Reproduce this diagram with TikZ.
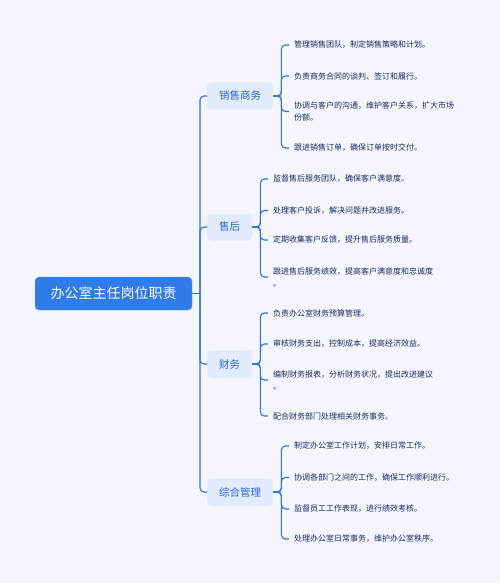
\documentclass[tikz,border=0pt]{standalone}
\usepackage{fontspec}
\newfontfamily\cjk{Noto Sans CJK SC}
\definecolor{bgcol}{HTML}{F5F6FD}
\definecolor{rootblue}{HTML}{2F7BEA}
\definecolor{topicfill}{HTML}{E1EBFC}
\definecolor{topictext}{HTML}{2A68DC}
\definecolor{linkblue}{HTML}{2B74E6}
\definecolor{leaftext}{HTML}{1F2A63}

\begin{document}
\begin{tikzpicture}[x=1pt,y=-1pt,
    root/.style={rectangle,rounded corners=4pt,fill=rootblue,draw=rootblue!70!white,text=white,
      minimum width=157pt,minimum height=33pt,font=\cjk\fontsize{14}{16}\selectfont},
    topic/.style={rectangle,rounded corners=4pt,fill=topicfill,text=topictext,anchor=west,
      inner xsep=12pt,minimum height=27pt,font=\cjk\fontsize{10.5}{12}\selectfont},
    leaf/.style={anchor=west,inner xsep=5pt,inner ysep=2pt,align=left,text=leaftext,
      font=\cjk\fontsize{8}{12}\selectfont},
    link/.style={draw=linkblue,line width=1.1pt,rounded corners=4pt}]
\fill[bgcol] (0,0) rectangle (500,583);
\node[root] (r) at (113.5,293.5) {办公室主任岗位职责};
\coordinate (j) at (200,293.5);
% topics
\node[topic] (s) at (207,96) {销售商务};
\node[topic] (h) at (207,227) {售后};
\node[topic] (f) at (207,364) {财务};
\node[topic] (g) at (207,492) {综合管理};
% leaves
\node[leaf] (s1) at (289,45) {管理销售团队，制定销售策略和计划。};
\node[leaf] (s2) at (289,76) {负责商务合同的谈判、签订和履行。};
\node[leaf] (s3) at (289,111.5) {协调与客户的沟通，维护客户关系，扩大市场\\份额。};
\node[leaf] (s4) at (289,148) {跟进销售订单，确保订单按时交付。};
\node[leaf] (h1) at (268,179) {监督售后服务团队，确保客户满意度。};
\node[leaf] (h2) at (268,210.5) {处理客户投诉，解决问题并改进服务。};
\node[leaf] (h3) at (268,240) {定期收集客户反馈，提升售后服务质量。};
\node[leaf] (h4) at (268,277) {跟进售后服务绩效，提高客户满意度和忠诚度\\。};
\node[leaf] (f1) at (268,313) {负责办公室财务预算管理。};
\node[leaf] (f2) at (268,344) {审核财务支出，控制成本，提高经济效益。};
\node[leaf] (f3) at (268,380) {编制财务报表，分析财务状况，提出改进建议\\。};
\node[leaf] (f4) at (268,416) {配合财务部门处理相关财务事务。};
\node[leaf] (g1) at (289,446) {制定办公室工作计划，安排日常工作。};
\node[leaf] (g2) at (289,477.5) {协调各部门之间的工作，确保工作顺利进行。};
\node[leaf] (g3) at (289,509) {监督员工工作表现，进行绩效考核。};
\node[leaf] (g4) at (289,539) {处理办公室日常事务，维护办公室秩序。};
% links
\draw[link] (r.east) -- (j);
\foreach \t in {s,h,f,g}
  \draw[link] (j) |- (\t.west);
\foreach \t in {s,g}
  \foreach \i in {1,...,4}
    \draw[link] (\t.east) -- ++(8,0) |- (\t\i.west);
\foreach \t in {h,f}
  \foreach \i in {1,...,4}
    \draw[link] (\t.east) -- ++(8,0) |- (\t\i.west);
\end{tikzpicture}
\end{document}
